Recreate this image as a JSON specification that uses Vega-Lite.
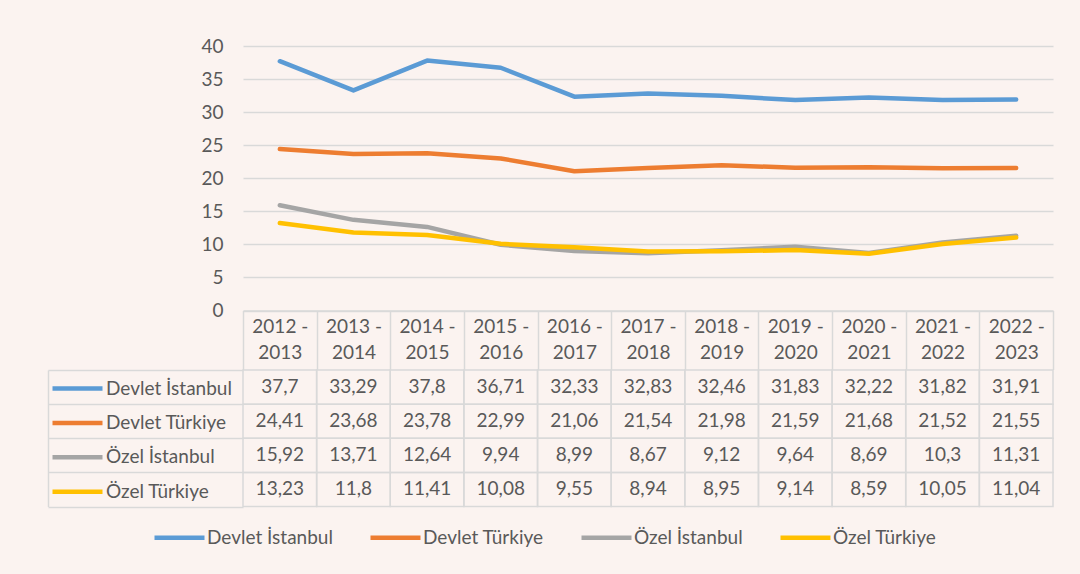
{
  "$schema": "https://vega.github.io/schema/vega-lite/v6.json",
  "background": "#FBF3F0",
  "padding": {"left": 47, "top": 37, "right": 26, "bottom": 26},
  "config": {
    "font": "Lato",
    "locale": {"number": {"decimal": ",", "thousands": ".", "grouping": [3], "currency": ["", ""]}},
    "view": {"stroke": null},
    "axis": {"labelFont": "Lato", "labelFontSize": 19, "labelColor": "#595959"},
    "legend": {"labelFont": "Lato", "labelFontSize": 19, "labelColor": "#595959", "padding": 0},
    "text": {"font": "Lato"}
  },
  "datasets": {
    "rows": [
      {"year": "2012 - 2013", "series": "Devlet İstanbul", "value": 37.7},
      {"year": "2013 - 2014", "series": "Devlet İstanbul", "value": 33.29},
      {"year": "2014 - 2015", "series": "Devlet İstanbul", "value": 37.8},
      {"year": "2015 - 2016", "series": "Devlet İstanbul", "value": 36.71},
      {"year": "2016 - 2017", "series": "Devlet İstanbul", "value": 32.33},
      {"year": "2017 - 2018", "series": "Devlet İstanbul", "value": 32.83},
      {"year": "2018 - 2019", "series": "Devlet İstanbul", "value": 32.46},
      {"year": "2019 - 2020", "series": "Devlet İstanbul", "value": 31.83},
      {"year": "2020 - 2021", "series": "Devlet İstanbul", "value": 32.22},
      {"year": "2021 - 2022", "series": "Devlet İstanbul", "value": 31.82},
      {"year": "2022 - 2023", "series": "Devlet İstanbul", "value": 31.91},
      {"year": "2012 - 2013", "series": "Devlet Türkiye", "value": 24.41},
      {"year": "2013 - 2014", "series": "Devlet Türkiye", "value": 23.68},
      {"year": "2014 - 2015", "series": "Devlet Türkiye", "value": 23.78},
      {"year": "2015 - 2016", "series": "Devlet Türkiye", "value": 22.99},
      {"year": "2016 - 2017", "series": "Devlet Türkiye", "value": 21.06},
      {"year": "2017 - 2018", "series": "Devlet Türkiye", "value": 21.54},
      {"year": "2018 - 2019", "series": "Devlet Türkiye", "value": 21.98},
      {"year": "2019 - 2020", "series": "Devlet Türkiye", "value": 21.59},
      {"year": "2020 - 2021", "series": "Devlet Türkiye", "value": 21.68},
      {"year": "2021 - 2022", "series": "Devlet Türkiye", "value": 21.52},
      {"year": "2022 - 2023", "series": "Devlet Türkiye", "value": 21.55},
      {"year": "2012 - 2013", "series": "Özel İstanbul", "value": 15.92},
      {"year": "2013 - 2014", "series": "Özel İstanbul", "value": 13.71},
      {"year": "2014 - 2015", "series": "Özel İstanbul", "value": 12.64},
      {"year": "2015 - 2016", "series": "Özel İstanbul", "value": 9.94},
      {"year": "2016 - 2017", "series": "Özel İstanbul", "value": 8.99},
      {"year": "2017 - 2018", "series": "Özel İstanbul", "value": 8.67},
      {"year": "2018 - 2019", "series": "Özel İstanbul", "value": 9.12},
      {"year": "2019 - 2020", "series": "Özel İstanbul", "value": 9.64},
      {"year": "2020 - 2021", "series": "Özel İstanbul", "value": 8.69},
      {"year": "2021 - 2022", "series": "Özel İstanbul", "value": 10.3},
      {"year": "2022 - 2023", "series": "Özel İstanbul", "value": 11.31},
      {"year": "2012 - 2013", "series": "Özel Türkiye", "value": 13.23},
      {"year": "2013 - 2014", "series": "Özel Türkiye", "value": 11.8},
      {"year": "2014 - 2015", "series": "Özel Türkiye", "value": 11.41},
      {"year": "2015 - 2016", "series": "Özel Türkiye", "value": 10.08},
      {"year": "2016 - 2017", "series": "Özel Türkiye", "value": 9.55},
      {"year": "2017 - 2018", "series": "Özel Türkiye", "value": 8.94},
      {"year": "2018 - 2019", "series": "Özel Türkiye", "value": 8.95},
      {"year": "2019 - 2020", "series": "Özel Türkiye", "value": 9.14},
      {"year": "2020 - 2021", "series": "Özel Türkiye", "value": 8.59},
      {"year": "2021 - 2022", "series": "Özel Türkiye", "value": 10.05},
      {"year": "2022 - 2023", "series": "Özel Türkiye", "value": 11.04}
    ]
  },
  "bounds": "flush",
  "spacing": 59,
  "resolve": {"legend": {"color": "independent"}},
  "vconcat": [
    {
      "width": 810,
      "height": 264.5,
      "data": {"name": "rows"},
      "mark": {"type": "line", "strokeWidth": 4.5, "strokeCap": "round", "strokeJoin": "round"},
      "encoding": {
        "x": {
          "field": "year", "type": "ordinal", "bandPosition": 0.5,
          "scale": {"type": "band", "paddingInner": 0, "paddingOuter": 0},
          "axis": {
            "title": null, "orient": "bottom", "labelAngle": 0,
            "tickBand": "extent", "tickSize": 59, "tickColor": "#D9D9D9", "tickWidth": 1.5,
            "domainColor": "#D9D9D9", "domainWidth": 1.5,
            "labelBaseline": "middle", "labelPadding": -43, "labelLineHeight": 26,
            "labelExpr": "[slice(datum.label, 0, 6), slice(datum.label, 7)]"
          }
        },
        "y": {
          "field": "value", "type": "quantitative",
          "scale": {"domain": [0, 40]},
          "axis": {
            "title": null, "values": [0, 5, 10, 15, 20, 25, 30, 35, 40],
            "domain": false, "ticks": false, "labelPadding": 20,
            "gridColor": "#D9D9D9", "gridWidth": 1.5
          }
        },
        "color": {
          "field": "series", "type": "nominal",
          "scale": {
            "domain": ["Devlet İstanbul", "Devlet Türkiye", "Özel İstanbul", "Özel Türkiye"],
            "range": ["#5B9BD5", "#ED7D31", "#A5A5A5", "#FFC000"]
          },
          "legend": {
            "title": null, "orient": "none", "direction": "horizontal",
            "legendX": -73, "legendY": 482,
            "symbolType": "M-5,0H5", "symbolSize": 100, "symbolStrokeWidth": 4.5,
            "symbolOpacity": 1, "labelOffset": 18, "columnPadding": 28
          }
        }
      }
    },
    {
      "width": 810,
      "height": 136.5,
      "data": {"name": "rows"},
      "encoding": {
        "x": {
          "field": "year", "type": "ordinal",
          "scale": {"type": "band", "paddingInner": 0, "paddingOuter": 0},
          "axis": null
        },
        "y": {
          "field": "series", "type": "nominal",
          "sort": ["Devlet İstanbul", "Devlet Türkiye", "Özel İstanbul", "Özel Türkiye"],
          "scale": {"type": "band", "paddingInner": 0, "paddingOuter": 0},
          "axis": {
            "title": null, "orient": "left", "offset": 195,
            "tickSize": -195, "tickBand": "extent", "tickColor": "#D9D9D9", "tickWidth": 1.5,
            "domainColor": "#D9D9D9", "domainWidth": 1.5, "labels": false
          }
        }
      },
      "layer": [
        {"mark": {"type": "rect", "filled": false, "stroke": "#D9D9D9", "strokeWidth": 1.5}},
        {
          "mark": {"type": "text", "fontSize": 19, "color": "#595959"},
          "encoding": {"text": {"field": "value", "type": "quantitative", "format": "~g"}}
        },
        {
          "mark": {"type": "point", "size": 0, "filled": false},
          "encoding": {
            "color": {
              "field": "series", "type": "nominal",
              "legend": {
                "title": null, "orient": "none", "direction": "vertical",
                "legendX": -175, "legendY": 9,
                "symbolType": "M-5,0H5", "symbolSize": 100, "symbolStrokeWidth": 4.5,
                "symbolOpacity": 1, "labelOffset": 19, "rowPadding": 14.4
              }
            }
          }
        }
      ]
    }
  ]
}
